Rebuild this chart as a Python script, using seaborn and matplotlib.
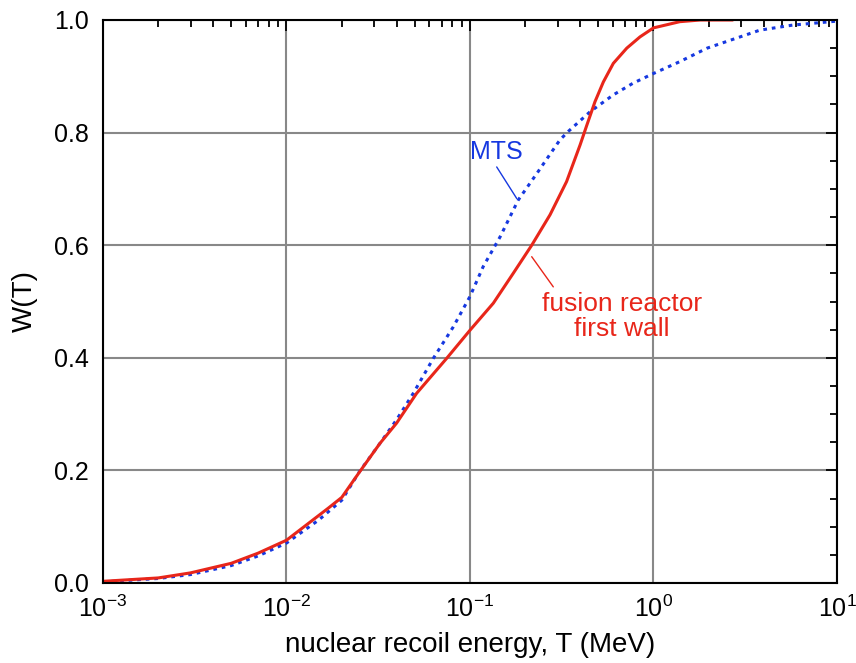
import matplotlib
matplotlib.use("Agg")
import matplotlib.pyplot as plt
import matplotlib.ticker as mticker
import seaborn as sns
import pandas as pd
import numpy as np

# Data
red_T = [0.001, 0.002, 0.003, 0.005, 0.007, 0.01, 0.0169, 0.02, 0.0251, 0.0323,
         0.0398, 0.0512, 0.0746, 0.1, 0.134, 0.172, 0.217, 0.273, 0.336, 0.398,
         0.433, 0.48, 0.533, 0.604, 0.715, 0.844, 1.0, 1.39, 1.8, 2.7]
red_W = [0.003, 0.009, 0.018, 0.035, 0.053, 0.076, 0.133, 0.152, 0.198, 0.248,
         0.284, 0.337, 0.399, 0.449, 0.497, 0.550, 0.600, 0.654, 0.713, 0.778,
         0.813, 0.855, 0.890, 0.923, 0.950, 0.970, 0.986, 0.997, 1.0, 1.0]
blue_T = [0.001, 0.002, 0.003, 0.005, 0.007, 0.01, 0.015, 0.02, 0.025, 0.0323,
          0.0398, 0.0491, 0.0631, 0.0811, 0.1, 0.118, 0.146, 0.183, 0.232, 0.309,
          0.343, 0.451, 0.604, 0.776, 1.0, 1.39, 1.96, 3.8, 5.75, 10.0]
blue_W = [0.002, 0.008, 0.015, 0.031, 0.048, 0.071, 0.112, 0.147, 0.198, 0.248,
          0.290, 0.337, 0.399, 0.455, 0.509, 0.562, 0.615, 0.680, 0.728, 0.787,
          0.802, 0.837, 0.867, 0.888, 0.905, 0.926, 0.950, 0.982, 0.991, 0.998]

RED = "#e8261a"
BLUE = "#1638e0"

sns.set_theme(style="white")
plt.rcParams["font.family"] = ["Liberation Sans", "DejaVu Sans"]
plt.rcParams["mathtext.fontset"] = "custom"
plt.rcParams["mathtext.rm"] = "Liberation Sans"
plt.rcParams["mathtext.it"] = "Liberation Sans:italic"
plt.rcParams["axes.unicode_minus"] = False
plt.rcParams["text.color"] = "black"
plt.rcParams["axes.labelcolor"] = "black"
plt.rcParams["xtick.color"] = "black"
plt.rcParams["ytick.color"] = "black"

fig = plt.figure(figsize=(8.56, 6.63), dpi=100)
ax = fig.add_axes([103/856, 1-583/663, (837-103)/856, (583-20)/663])

df_red = pd.DataFrame({"T": red_T, "W": red_W})
df_blue = pd.DataFrame({"T": blue_T, "W": blue_W})

sns.lineplot(data=df_blue, x="T", y="W", ax=ax, color=BLUE, linewidth=2.2,
             sort=False, zorder=3)
ax.lines[-1].set_dashes([1.2, 1.6])
sns.lineplot(data=df_red, x="T", y="W", ax=ax, color=RED, linewidth=2.2,
             sort=False, zorder=4)

ax.set_xscale("log")
ax.set_xlim(1e-3, 10)
ax.set_ylim(0, 1.0)
ax.yaxis.set_major_locator(mticker.MultipleLocator(0.2))
ax.yaxis.set_minor_locator(mticker.MultipleLocator(0.05))
ax.yaxis.set_major_formatter(mticker.FormatStrFormatter("%.1f"))
ax.xaxis.set_major_locator(mticker.LogLocator(base=10, numticks=10))
ax.xaxis.set_minor_locator(mticker.LogLocator(base=10, subs=np.arange(2, 10), numticks=20))
ax.xaxis.set_minor_formatter(mticker.NullFormatter())

ax.grid(True, which="major", color="#888888", linewidth=1.5)
for s in ax.spines.values():
    s.set_color("black")
    s.set_linewidth(1.5)
    s.set_zorder(5)
ax.tick_params(which="both", direction="in", top=True, right=True,
               color="black", width=1.3, labelcolor="black")
ax.tick_params(which="major", length=8, labelsize=18)
ax.tick_params(axis="y", which="major", pad=10)
ax.tick_params(axis="x", which="major", pad=9)
ax.tick_params(which="minor", length=5)

ax.set_xlabel("nuclear recoil energy, T (MeV)", fontsize=20, labelpad=7, color="black")
ax.set_ylabel("W(T)", fontsize=20, labelpad=12, color="black")

# annotations
ax.text(0.14, 0.766, "MTS", color=BLUE, fontsize=18, ha="center", va="center")
ax.plot([0.1398, 0.1797], [0.739, 0.683], color=BLUE, linewidth=1)
ax.text(0.673, 0.474, "fusion reactor\nfirst wall", color=RED, fontsize=19,
        ha="center", va="center", linespacing=1.05)
ax.plot([0.2169, 0.2844], [0.5796, 0.526], color=RED, linewidth=1)

fig.savefig("out.png", dpi=100)
